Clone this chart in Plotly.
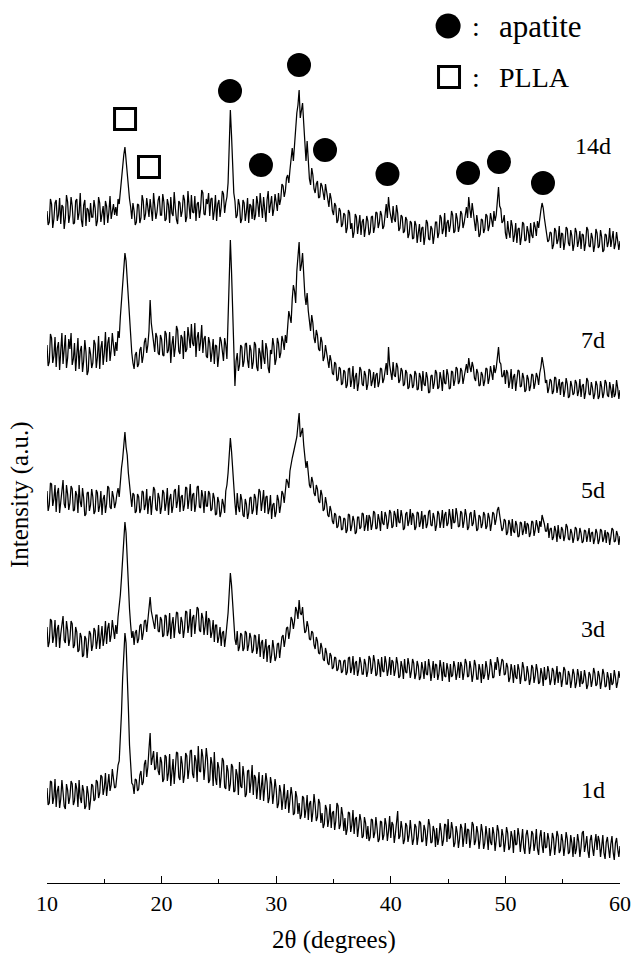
import plotly.graph_objects as go

# 2-theta scan grid (degrees), step 0.1
two_theta = [round(10 + 0.1 * i, 1) for i in range(501)]

series_names = ["14d", "7d", "5d", "3d", "1d"]

# stacked intensities (a.u.), one value per 2-theta point (rows of 2 degrees)
intensity_14d = [
    672, 658, 661, 684, 679, 655, 664, 680, 683, 662, 668, 685, 659, 678, 676, 654, 665, 688, 681, 660,
    668, 686, 677, 659, 660, 682, 684, 663, 670, 690, 663, 656, 678, 683, 657, 675, 673, 661, 680, 666,
    666, 683, 675, 657, 662, 686, 680, 661, 669, 677, 658, 682, 677, 660, 671, 687, 664, 673, 679, 668,
    676, 667, 684, 679, 692, 706, 712, 728, 736, 722, 708, 690, 684, 676, 664, 680, 672, 658, 661, 679,
    678, 660, 665, 688, 682, 663, 669, 685, 676, 666, 684, 672, 662, 690, 680, 664, 671, 683, 687, 668,
    668, 689, 681, 662, 664, 684, 678, 660, 686, 670, 667, 691, 675, 663, 659, 682, 680, 666, 672, 688,
    683, 661, 666, 692, 677, 664, 688, 671, 670, 687, 662, 679, 681, 665, 674, 693, 690, 669, 668, 684,
    679, 690, 667, 684, 685, 663, 672, 688, 662, 679, 683, 666, 676, 692, 689, 670, 680, 686, 700, 735,
    773, 748, 712, 690, 682, 665, 668, 684, 678, 660, 664, 683, 680, 662, 671, 685, 660, 679, 677, 664,
    684, 663, 668, 687, 679, 666, 690, 672, 665, 686, 676, 661, 683, 692, 670, 682, 687, 667, 674, 689,
    681, 672, 690, 678, 684, 699, 697, 686, 692, 705, 708, 700, 713, 726, 735, 722, 742, 758, 770, 778,
    793, 765, 771, 780, 760, 738, 722, 742, 718, 704, 698, 715, 708, 694, 690, 699, 702, 685, 686, 700,
    697, 688, 683, 699, 692, 681, 676, 690, 684, 672, 668, 680, 677, 660, 663, 675, 672, 656, 659, 670,
    668, 650, 655, 673, 670, 654, 660, 645, 651, 669, 666, 649, 657, 668, 648, 661, 664, 646, 655, 667,
    662, 648, 651, 666, 667, 650, 656, 671, 670, 655, 660, 672, 668, 654, 657, 668, 679, 665, 686, 673,
    668, 660, 677, 664, 661, 678, 670, 652, 655, 668, 666, 650, 652, 666, 663, 645, 649, 662, 660, 644,
    645, 662, 658, 640, 650, 659, 641, 655, 656, 638, 647, 663, 660, 644, 643, 657, 654, 639, 648, 661,
    661, 645, 650, 668, 665, 649, 654, 670, 646, 660, 663, 651, 658, 672, 668, 650, 652, 670, 664, 651,
    657, 672, 669, 655, 660, 671, 676, 665, 686, 674, 665, 680, 671, 658, 652, 668, 660, 646, 649, 664,
    663, 650, 654, 669, 667, 652, 657, 670, 664, 656, 672, 662, 668, 683, 696, 677, 674, 660, 662, 668,
    650, 644, 662, 651, 645, 663, 657, 641, 648, 660, 640, 654, 655, 638, 646, 661, 659, 642, 643, 657,
    651, 640, 660, 648, 645, 661, 656, 647, 662, 655, 668, 673, 680, 675, 665, 657, 652, 641, 643, 651,
    650, 634, 638, 655, 652, 639, 643, 657, 635, 650, 649, 633, 641, 656, 654, 640, 637, 653, 647, 632,
    639, 655, 651, 636, 642, 652, 634, 649, 648, 632, 640, 656, 653, 637, 636, 650, 645, 631, 638, 654,
    650, 635, 637, 653, 646, 631, 633, 649, 648, 636, 641, 655, 636, 647, 652, 634, 639, 651, 644, 633,
    642,
]

intensity_7d = [
    538, 517, 521, 549, 545, 520, 527, 546, 516, 535, 541, 513, 532, 550, 519, 537, 548, 515, 525, 544,
    534, 550, 518, 524, 540, 512, 529, 545, 514, 532, 537, 511, 522, 543, 531, 508, 512, 536, 529, 515,
    520, 543, 539, 515, 526, 547, 514, 535, 542, 518, 530, 551, 521, 540, 546, 522, 533, 550, 538, 527,
    541, 532, 552, 545, 566, 580, 594, 615, 630, 622, 604, 578, 561, 548, 530, 520, 514, 528, 531, 516,
    519, 533, 536, 520, 527, 541, 545, 530, 538, 552, 583, 560, 549, 536, 531, 550, 546, 530, 528, 548,
    544, 528, 527, 552, 549, 530, 533, 551, 520, 538, 547, 526, 536, 557, 553, 532, 529, 548, 545, 524,
    552, 531, 534, 556, 548, 535, 559, 540, 537, 560, 526, 545, 551, 532, 541, 558, 530, 544, 547, 527,
    525, 546, 540, 521, 531, 544, 519, 538, 537, 516, 528, 546, 542, 530, 522, 545, 538, 524, 565, 596,
    643, 612, 575, 540, 497, 522, 530, 512, 518, 538, 536, 516, 522, 539, 540, 523, 515, 538, 533, 514,
    521, 541, 538, 516, 512, 535, 530, 514, 543, 526, 519, 540, 534, 515, 510, 533, 529, 545, 537, 518,
    524, 545, 540, 525, 530, 547, 542, 533, 548, 540, 556, 572, 566, 560, 584, 598, 592, 580, 612, 626,
    641, 612, 618, 630, 606, 588, 578, 590, 572, 560, 552, 568, 560, 545, 540, 553, 548, 534, 532, 546,
    541, 522, 526, 538, 530, 520, 515, 528, 522, 510, 508, 521, 519, 502, 504, 516, 514, 498, 500, 513,
    511, 495, 498, 514, 515, 496, 503, 517, 494, 506, 510, 492, 500, 516, 513, 499, 497, 512, 508, 493,
    499, 514, 512, 497, 502, 511, 495, 508, 510, 496, 501, 515, 514, 500, 504, 512, 520, 508, 536, 518,
    512, 503, 521, 508, 506, 520, 516, 500, 503, 515, 512, 497, 499, 513, 510, 494, 496, 509, 507, 495,
    498, 512, 509, 493, 494, 510, 506, 492, 512, 499, 497, 511, 505, 490, 491, 507, 508, 494, 500, 513,
    510, 494, 496, 511, 504, 492, 513, 500, 499, 514, 508, 494, 495, 512, 511, 497, 503, 516, 514, 499,
    502, 515, 512, 499, 506, 514, 519, 510, 525, 516, 511, 521, 516, 505, 502, 514, 510, 497, 498, 511,
    508, 497, 502, 515, 514, 499, 505, 517, 511, 503, 518, 510, 515, 526, 536, 521, 519, 506, 507, 513,
    499, 513, 510, 495, 502, 514, 494, 506, 509, 492, 500, 513, 512, 496, 497, 510, 505, 491, 493, 508,
    504, 492, 497, 509, 508, 494, 500, 510, 506, 498, 510, 516, 526, 519, 512, 500, 503, 490, 495, 504,
    502, 489, 492, 506, 505, 490, 496, 504, 488, 500, 501, 486, 493, 505, 499, 485, 487, 502, 497, 488,
    490, 503, 500, 487, 492, 504, 486, 497, 499, 484, 491, 505, 502, 489, 488, 501, 495, 484, 489, 502,
    498, 484, 487, 502, 496, 485, 490, 503, 500, 488, 486, 501, 494, 485, 499, 486, 489, 503, 495, 484,
    493,
]

intensity_5d = [
    392, 372, 378, 400, 399, 377, 384, 398, 371, 390, 395, 370, 381, 396, 403, 379, 375, 398, 389, 373,
    380, 397, 394, 372, 373, 392, 388, 370, 398, 381, 376, 395, 385, 367, 369, 390, 391, 372, 378, 394,
    386, 369, 372, 393, 390, 371, 377, 392, 368, 384, 388, 370, 379, 397, 395, 376, 374, 392, 386, 375,
    380, 389, 395, 386, 404, 415, 424, 440, 451, 436, 428, 410, 398, 385, 376, 390, 388, 370, 372, 389,
    386, 370, 374, 392, 391, 373, 378, 394, 369, 383, 387, 368, 381, 396, 393, 374, 372, 390, 385, 369,
    376, 393, 390, 372, 380, 395, 368, 384, 389, 370, 377, 392, 394, 375, 382, 398, 371, 386, 388, 372,
    378, 396, 395, 374, 384, 399, 372, 388, 390, 371, 379, 396, 397, 376, 375, 393, 386, 370, 392, 377,
    377, 392, 389, 372, 374, 390, 385, 368, 369, 386, 381, 366, 371, 384, 379, 370, 392, 398, 410, 428,
    445, 432, 412, 394, 380, 368, 390, 376, 371, 389, 383, 368, 366, 384, 379, 364, 370, 385, 386, 369,
    373, 389, 385, 368, 378, 394, 391, 372, 382, 393, 370, 386, 387, 369, 374, 388, 364, 378, 380, 366,
    371, 388, 383, 370, 378, 392, 389, 380, 392, 404, 401, 395, 412, 420, 425, 430, 436, 442, 446, 458,
    470, 446, 450, 455, 438, 425, 415, 422, 410, 398, 395, 406, 401, 390, 387, 398, 394, 382, 380, 393,
    388, 372, 374, 386, 379, 368, 366, 377, 372, 362, 359, 370, 368, 355, 357, 367, 366, 353, 354, 365,
    364, 350, 353, 369, 368, 352, 357, 367, 362, 349, 351, 366, 366, 354, 356, 370, 369, 352, 358, 368,
    352, 368, 365, 353, 359, 372, 370, 354, 355, 369, 363, 352, 372, 360, 358, 371, 367, 354, 361, 373,
    370, 355, 357, 372, 368, 356, 374, 361, 360, 373, 366, 353, 355, 369, 371, 357, 362, 374, 358, 370,
    367, 353, 356, 371, 370, 356, 361, 372, 354, 367, 368, 355, 359, 371, 373, 358, 357, 370, 365, 352,
    358, 372, 369, 355, 362, 373, 355, 368, 371, 357, 360, 374, 366, 354, 374, 360, 361, 375, 368, 356,
    357, 372, 370, 355, 362, 374, 367, 353, 356, 369, 371, 357, 360, 373, 364, 352, 354, 368, 366, 355,
    359, 371, 368, 354, 357, 370, 365, 352, 360, 371, 369, 358, 364, 373, 376, 368, 362, 352, 355, 364,
    362, 348, 351, 363, 359, 347, 364, 352, 350, 362, 358, 346, 347, 361, 360, 348, 353, 362, 349, 360,
    358, 346, 350, 362, 361, 347, 353, 363, 357, 350, 362, 356, 368, 364, 359, 352, 352, 360, 345, 354,
    355, 343, 346, 357, 352, 341, 358, 347, 344, 356, 353, 342, 347, 359, 356, 344, 343, 354, 350, 340,
    346, 356, 354, 342, 345, 355, 350, 340, 342, 353, 352, 341, 347, 355, 341, 350, 351, 339, 344, 354,
    350, 339, 343, 354, 352, 341, 345, 353, 340, 351, 349, 338, 346, 355, 353, 341, 342, 352, 348, 338,
    347,
]

intensity_3d = [
    256, 236, 241, 264, 262, 240, 247, 263, 236, 254, 258, 235, 249, 261, 267, 243, 240, 262, 253, 237,
    244, 262, 259, 235, 238, 256, 251, 231, 233, 250, 246, 226, 228, 247, 244, 225, 236, 252, 249, 232,
    238, 255, 252, 234, 243, 258, 234, 250, 257, 237, 245, 262, 239, 255, 260, 241, 248, 263, 254, 244,
    258, 249, 266, 275, 288, 305, 327, 348, 361, 350, 322, 296, 274, 258, 245, 252, 238, 250, 253, 240,
    244, 257, 259, 243, 250, 262, 263, 251, 262, 274, 286, 272, 266, 258, 254, 268, 268, 252, 251, 266,
    263, 246, 248, 268, 267, 247, 252, 270, 244, 259, 266, 245, 255, 271, 270, 251, 249, 266, 261, 245,
    254, 272, 271, 250, 258, 274, 246, 265, 268, 249, 262, 276, 274, 253, 251, 270, 265, 248, 257, 272,
    248, 265, 262, 245, 251, 263, 241, 258, 258, 240, 246, 256, 237, 250, 252, 236, 246, 258, 270, 290,
    310, 298, 278, 252, 244, 238, 252, 232, 236, 250, 248, 232, 235, 252, 250, 232, 238, 250, 245, 230,
    233, 248, 247, 229, 236, 249, 226, 240, 243, 224, 232, 244, 221, 236, 238, 220, 228, 243, 234, 222,
    226, 239, 240, 225, 236, 246, 248, 236, 244, 255, 256, 244, 252, 266, 263, 254, 262, 276, 272, 264,
    283, 270, 268, 276, 261, 250, 252, 262, 256, 244, 243, 252, 250, 238, 234, 246, 242, 230, 229, 240,
    235, 224, 222, 235, 230, 220, 218, 230, 227, 214, 216, 226, 225, 212, 214, 223, 222, 210, 212, 222,
    223, 208, 211, 225, 226, 210, 215, 227, 208, 220, 222, 207, 213, 226, 220, 209, 209, 224, 219, 206,
    212, 227, 224, 209, 215, 228, 221, 207, 209, 224, 218, 206, 226, 212, 211, 227, 220, 207, 214, 226,
    208, 223, 221, 207, 213, 226, 219, 205, 207, 222, 216, 204, 224, 211, 210, 225, 218, 205, 212, 224,
    220, 204, 209, 222, 217, 203, 206, 221, 214, 204, 222, 209, 208, 224, 216, 202, 211, 222, 205, 219,
    218, 203, 209, 223, 215, 202, 221, 207, 206, 220, 213, 201, 219, 206, 208, 222, 216, 203, 210, 221,
    205, 221, 217, 203, 211, 224, 220, 206, 207, 222, 214, 201, 209, 223, 218, 204, 204, 219, 213, 200,
    219, 204, 208, 222, 215, 203, 210, 224, 217, 205, 206, 221, 213, 226, 220, 207, 216, 224, 222, 208,
    209, 220, 216, 201, 205, 219, 212, 200, 218, 206, 204, 219, 213, 199, 208, 221, 215, 202, 203, 217,
    210, 198, 204, 218, 215, 200, 207, 219, 212, 199, 201, 215, 209, 197, 216, 203, 205, 217, 211, 198,
    203, 215, 212, 198, 206, 217, 200, 211, 210, 196, 204, 216, 213, 199, 199, 212, 208, 195, 203, 214,
    209, 195, 200, 214, 207, 196, 212, 199, 201, 213, 206, 194, 198, 211, 208, 196, 203, 215, 210, 197,
    199, 212, 207, 194, 202, 214, 209, 196, 197, 211, 205, 193, 210, 198, 200, 213, 206, 195, 201, 212,
    205,
]

intensity_1d = [
    95, 78, 80, 102, 101, 79, 86, 104, 76, 92, 97, 75, 84, 103, 91, 77, 74, 99, 93, 79,
    86, 102, 99, 78, 82, 100, 94, 76, 103, 85, 80, 98, 92, 74, 77, 97, 89, 73, 83, 99,
    97, 82, 84, 103, 101, 85, 90, 108, 106, 88, 95, 110, 87, 99, 109, 92, 98, 114, 104, 95,
    96, 110, 118, 122, 142, 170, 205, 236, 250, 240, 214, 175, 138, 115, 100, 98, 89, 104, 103, 92,
    94, 108, 112, 98, 101, 119, 123, 106, 116, 134, 150, 118, 128, 132, 113, 115, 131, 112, 108, 126,
    121, 101, 104, 128, 126, 102, 110, 129, 97, 116, 124, 99, 112, 131, 130, 106, 103, 127, 119, 100,
    108, 130, 127, 104, 114, 132, 133, 109, 105, 128, 122, 101, 137, 112, 111, 134, 126, 103, 117, 135,
    124, 100, 103, 126, 119, 97, 131, 105, 98, 121, 115, 95, 107, 125, 122, 96, 94, 118, 112, 92,
    99, 119, 116, 91, 92, 114, 108, 88, 121, 97, 95, 117, 106, 86, 89, 112, 113, 90, 101, 118,
    88, 108, 105, 84, 97, 111, 83, 100, 108, 82, 93, 110, 101, 80, 85, 106, 99, 79, 90, 104,
    94, 75, 79, 98, 91, 73, 85, 99, 74, 88, 93, 70, 81, 96, 87, 68, 70, 92, 86, 69,
    80, 64, 68, 87, 85, 65, 74, 88, 63, 79, 82, 61, 71, 89, 78, 62, 66, 84, 80, 60,
    70, 55, 59, 78, 74, 56, 64, 79, 55, 70, 72, 53, 62, 80, 77, 54, 58, 76, 68, 52,
    65, 48, 54, 71, 70, 51, 58, 73, 49, 64, 66, 46, 56, 69, 62, 45, 47, 66, 60, 44,
    57, 42, 46, 64, 63, 45, 50, 66, 55, 41, 44, 62, 61, 43, 48, 65, 58, 42, 52, 67,
    45, 61, 58, 40, 49, 63, 72, 44, 47, 62, 54, 39, 43, 60, 57, 41, 48, 63, 53, 38,
    44, 59, 56, 38, 47, 62, 60, 41, 42, 58, 53, 37, 49, 64, 58, 40, 41, 57, 52, 36,
    55, 38, 45, 60, 51, 37, 43, 59, 58, 41, 64, 44, 46, 61, 54, 36, 40, 57, 50, 35,
    44, 59, 55, 36, 47, 60, 39, 54, 53, 35, 45, 61, 58, 38, 42, 57, 50, 34, 44, 59,
    51, 34, 40, 57, 47, 33, 55, 41, 38, 56, 49, 32, 43, 58, 52, 36, 37, 54, 47, 31,
    41, 56, 50, 33, 36, 52, 46, 30, 53, 38, 39, 55, 47, 31, 42, 54, 35, 29, 48, 53,
    44, 29, 37, 52, 49, 32, 40, 54, 34, 28, 46, 53, 38, 30, 51, 35, 36, 50, 43, 27,
    35, 50, 45, 28, 39, 52, 47, 30, 33, 49, 42, 27, 37, 51, 44, 29, 31, 48, 40, 26,
    46, 29, 34, 49, 41, 26, 36, 50, 52, 31, 38, 47, 32, 25, 43, 48, 35, 27, 40, 49,
    33, 47, 42, 26, 36, 48, 30, 24, 41, 46, 35, 25, 39, 47, 31, 23, 40, 45, 34, 26,
    37,
]

series_values = [intensity_14d, intensity_7d, intensity_5d, intensity_3d, intensity_1d]
label_y = [737, 543, 393, 254, 93]
label_x = 57.6

# peak markers
apatite_x = [25.97, 28.67, 31.99, 34.26, 39.71, 46.74, 49.44, 53.28]
apatite_y = [792, 718, 818, 733, 709, 710, 721, 700]
plla_x = [16.81, 18.90]
plla_y = [764, 716]

legend_names = ["apatite", "PLLA"]

FONT = "Liberation Serif, Times New Roman, Times, serif"

for nm, v in zip(series_names, series_values):
    assert len(v) == len(two_theta), (nm, len(v))

fig = go.Figure()
for name, vals in zip(series_names, series_values):
    fig.add_trace(go.Scatter(
        x=two_theta, y=vals, mode="lines", name=name,
        line=dict(color="black", width=1.25), showlegend=False,
    ))

fig.add_trace(go.Scatter(
    x=apatite_x, y=apatite_y, mode="markers",
    marker=dict(symbol="circle", size=24, color="black", line=dict(width=0)),
    showlegend=False, cliponaxis=False,
))
fig.add_trace(go.Scatter(
    x=plla_x, y=plla_y, mode="markers",
    marker=dict(symbol="square-open", size=21, color="black", line=dict(width=3, color="black")),
    showlegend=False, cliponaxis=False,
))

# custom legend
fig.add_trace(go.Scatter(
    x=[45.0], y=[857], mode="markers",
    marker=dict(symbol="circle", size=25, color="black"),
    showlegend=False, cliponaxis=False,
))
fig.add_trace(go.Scatter(
    x=[45.08], y=[806], mode="markers",
    marker=dict(symbol="square-open", size=21, color="black", line=dict(width=3, color="black")),
    showlegend=False, cliponaxis=False,
))

annotations = []
for yy, txt, fs in [(857, legend_names[0], 31), (806, legend_names[1], 28)]:
    annotations.append(dict(x=47.4, y=yy, text=":", showarrow=False,
                            font=dict(family=FONT, size=28, color="black"),
                            xanchor="center", yanchor="middle"))
    annotations.append(dict(x=49.3, y=yy, text=txt, showarrow=False,
                            font=dict(family=FONT, size=fs, color="black"),
                            xanchor="left", yanchor="middle"))

for name, yy in zip(series_names, label_y):
    annotations.append(dict(x=label_x, y=yy, text=name, showarrow=False,
                            font=dict(family=FONT, size=24, color="black"),
                            xanchor="center", yanchor="middle"))

annotations.append(dict(xref="paper", yref="paper", x=(20 - 47) / 573, y=(883 - 495) / 883,
                        text="Intensity (a.u.)", textangle=-90, showarrow=False,
                        font=dict(family=FONT, size=25, color="black"),
                        xanchor="center", yanchor="middle"))
annotations.append(dict(xref="paper", yref="paper", x=0.5, y=-(940 - 883) / 883,
                        text="2θ (degrees)", showarrow=False,
                        font=dict(family=FONT, size=25, color="black"),
                        xanchor="center", yanchor="middle"))

fig.update_layout(
    width=633, height=954,
    margin=dict(l=47, r=13, t=0, b=71),
    paper_bgcolor="white", plot_bgcolor="white",
    showlegend=False,
    annotations=annotations,
    xaxis=dict(
        range=[10, 60], tickvals=[10, 20, 30, 40, 50, 60],
        ticks="inside", ticklen=7, tickwidth=1.3, tickcolor="black",
        showline=True, linecolor="black", linewidth=1.4,
        showgrid=False, zeroline=False,
        tickfont=dict(family=FONT, size=22, color="black"),
        minor=dict(tickvals=[15, 25, 35, 45, 55], ticks="inside", ticklen=4,
                   tickwidth=1.2, tickcolor="black", showgrid=False),
    ),
    yaxis=dict(range=[0, 883], visible=False, showgrid=False, zeroline=False),
)

fig.write_html("out.html")
